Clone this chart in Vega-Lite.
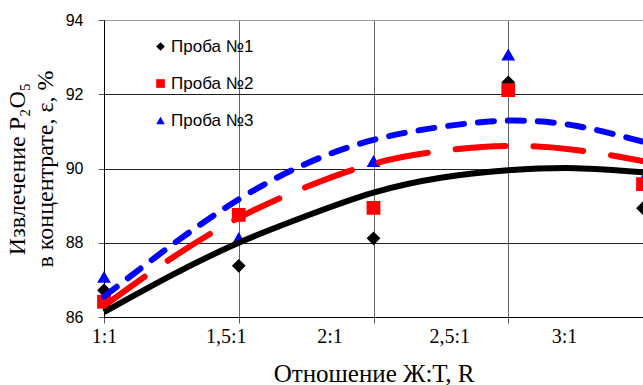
{
  "$schema": "https://vega.github.io/schema/vega-lite/v6.json",
  "width": 539,
  "height": 297,
  "autosize": {"type": "none"},
  "padding": {"left": 104, "top": 20, "right": 0, "bottom": 68},
  "background": "white",
  "config": {"view": {"stroke": null}, "font": "Liberation Sans"},
  "datasets": {
    "points": [
      {"s": "Проба №3", "x": 1, "y": 87.08},
      {"s": "Проба №3", "x": 1.5, "y": 88.13},
      {"s": "Проба №3", "x": 2, "y": 90.2},
      {"s": "Проба №3", "x": 2.5, "y": 93.07},
      {"s": "Проба №3", "x": 3, "y": 89.7},
      {"s": "Проба №1", "x": 1, "y": 86.72},
      {"s": "Проба №1", "x": 1.5, "y": 87.38},
      {"s": "Проба №1", "x": 2, "y": 88.12},
      {"s": "Проба №1", "x": 2.5, "y": 92.32},
      {"s": "Проба №1", "x": 3, "y": 88.93},
      {"s": "Проба №2", "x": 1, "y": 86.41},
      {"s": "Проба №2", "x": 1.5, "y": 88.75},
      {"s": "Проба №2", "x": 2, "y": 88.94},
      {"s": "Проба №2", "x": 2.5, "y": 92.11},
      {"s": "Проба №2", "x": 3, "y": 89.58}
    ],
    "trend": [
      {"s": "Проба №1", "x": 1, "y": 86.13},
      {"s": "Проба №1", "x": 1.25, "y": 87.12},
      {"s": "Проба №1", "x": 1.5, "y": 88.0},
      {"s": "Проба №1", "x": 1.75, "y": 88.72},
      {"s": "Проба №1", "x": 2, "y": 89.35},
      {"s": "Проба №1", "x": 2.25, "y": 89.75},
      {"s": "Проба №1", "x": 2.5, "y": 89.95},
      {"s": "Проба №1", "x": 2.75, "y": 90.01},
      {"s": "Проба №1", "x": 3, "y": 89.9},
      {"s": "Проба №2", "x": 1, "y": 86.3},
      {"s": "Проба №2", "x": 1.25, "y": 87.58},
      {"s": "Проба №2", "x": 1.5, "y": 88.67},
      {"s": "Проба №2", "x": 1.75, "y": 89.5},
      {"s": "Проба №2", "x": 2, "y": 90.13},
      {"s": "Проба №2", "x": 2.25, "y": 90.47},
      {"s": "Проба №2", "x": 2.5, "y": 90.61},
      {"s": "Проба №2", "x": 2.75, "y": 90.5},
      {"s": "Проба №2", "x": 3, "y": 90.2},
      {"s": "Проба №3", "x": 1, "y": 86.55},
      {"s": "Проба №3", "x": 1.25, "y": 87.93},
      {"s": "Проба №3", "x": 1.5, "y": 89.17},
      {"s": "Проба №3", "x": 1.75, "y": 90.13},
      {"s": "Проба №3", "x": 2, "y": 90.77},
      {"s": "Проба №3", "x": 2.25, "y": 91.12},
      {"s": "Проба №3", "x": 2.5, "y": 91.29},
      {"s": "Проба №3", "x": 2.75, "y": 91.15},
      {"s": "Проба №3", "x": 3, "y": 90.72}
    ]
  },
  "encoding": {
    "x": {
      "field": "x",
      "type": "quantitative",
      "scale": {"domain": [1, 3], "nice": false, "zero": false},
      "axis": {
        "title": "Отношение Ж:Т, R",
        "values": [1, 1.5, 2, 2.5, 3],
        "labelExpr": "datum.value == 1 ? '1:1' : datum.value == 1.5 ? '1,5:1' : datum.value == 2 ? '2:1' : datum.value == 2.5 ? '2,5:1' : '3:1'",
        "labelFont": "Liberation Serif",
        "labelFontSize": 20,
        "labelColor": "black",
        "labelPadding": 3,
        "labelFlush": false,
        "labelOverlap": false,
        "labelOffset": {
          "condition": [
            {"test": "datum.value == 1.5", "value": -13},
            {"test": "datum.value == 2", "value": -44},
            {"test": "datum.value == 2.5", "value": -59},
            {"test": "datum.value == 3", "value": -79}
          ],
          "value": 0
        },
        "tickSize": 6,
        "tickColor": "#555555",
        "domainColor": "black",
        "grid": true,
        "gridColor": "#666666",
        "titleFont": "Liberation Serif",
        "titleFontSize": 25,
        "titleFontWeight": "normal",
        "titleColor": "black",
        "titlePadding": 15
      }
    },
    "y": {
      "field": "y",
      "type": "quantitative",
      "scale": {"domain": [86, 94], "nice": false, "zero": false},
      "axis": {
        "title": ["Извлечение P₂O₅", "в концентрате, ε, %"],
        "values": [86, 88, 90, 92, 94],
        "labelFont": "Liberation Sans",
        "labelFontSize": 16,
        "labelColor": "black",
        "labelPadding": 15,
        "labelFlush": false,
        "tickSize": 6,
        "tickColor": "#555555",
        "domainColor": "black",
        "grid": true,
        "gridColor": {"condition": {"test": "datum.value == 94", "value": "#a0a0a0"}, "value": "#222222"},
        "titleFont": "Liberation Serif",
        "titleFontSize": 24,
        "titleFontWeight": "normal",
        "titleColor": "black",
        "titleLineHeight": 28,
        "titlePadding": 8
      }
    }
  },
  "layer": [
    {
      "data": {"values": [{}]},
      "mark": {"type": "rect", "fill": "white"},
      "encoding": {
        "x": {"datum": 1.006, "type": "quantitative"},
        "x2": {"datum": 1.68},
        "y": {"datum": 90.82, "type": "quantitative"},
        "y2": {"datum": 93.97}
      }
    },
    {
      "data": {"name": "points"},
      "mark": {"type": "point", "filled": true, "opacity": 1, "size": 190},
      "encoding": {
        "color": {
          "field": "s",
          "type": "nominal",
          "scale": {"domain": ["Проба №1", "Проба №2", "Проба №3"], "range": ["#000000", "#FF0000", "#0000FF"]},
          "legend": {
            "title": null,
            "orient": "none",
            "legendX": 48,
            "legendY": 18,
            "padding": 0,
            "symbolSize": 75,
            "labelFont": "Liberation Sans",
            "labelFontSize": 17,
            "labelColor": "black",
            "labelOffset": 2,
            "rowPadding": 19
          }
        },
        "shape": {
          "field": "s",
          "type": "nominal",
          "scale": {"domain": ["Проба №1", "Проба №2", "Проба №3"], "range": ["diamond", "square", "triangle-up"]}
        }
      }
    },
    {
      "data": {"name": "trend"},
      "transform": [{"filter": "datum.s == 'Проба №1'"}],
      "mark": {"type": "line", "color": "black", "strokeWidth": 6, "interpolate": "natural"}
    },
    {
      "data": {"name": "trend"},
      "transform": [{"filter": "datum.s == 'Проба №2'"}],
      "mark": {"type": "line", "color": "#FF0000", "strokeWidth": 6, "interpolate": "natural", "strokeDash": [50, 28], "strokeCap": "round"}
    },
    {
      "data": {"name": "trend"},
      "transform": [{"filter": "datum.s == 'Проба №3'"}],
      "mark": {"type": "line", "color": "#0000FF", "strokeWidth": 6, "interpolate": "natural", "strokeDash": [16, 14], "strokeCap": "round"}
    }
  ]
}
